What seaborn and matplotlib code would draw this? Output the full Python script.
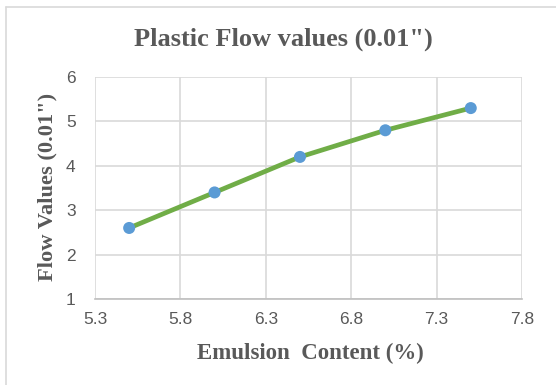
import matplotlib
matplotlib.use("Agg")
import matplotlib.pyplot as plt
import seaborn as sns
import pandas as pd
from matplotlib.lines import Line2D

emulsion = [5.5, 6.0, 6.5, 7.0, 7.5]
flow = [2.6, 3.4, 4.2, 4.8, 5.3]
x_ticks = [5.3, 5.8, 6.3, 6.8, 7.3, 7.8]
y_ticks = [1, 2, 3, 4, 5, 6]

df = pd.DataFrame({"Emulsion": emulsion, "Flow": flow})

sns.set_style("white")
fig = plt.figure(figsize=(5.56, 3.85), dpi=100)
ax = fig.add_axes([95/556, 1-299/385, (522-95)/556, (299-77)/385])

sns.lineplot(data=df, x="Emulsion", y="Flow", ax=ax, color="#70AD47",
             linewidth=3.4, solid_capstyle="round", zorder=3)
sns.scatterplot(data=df, x="Emulsion", y="Flow", ax=ax, color="#5B9BD5",
                s=75, edgecolor="none", zorder=4)

ax.set_xlim(5.3, 7.8)
ax.set_ylim(1, 6)
ax.set_xticks(x_ticks)
ax.set_xticklabels([f"{v:.1f}" for v in x_ticks])
ax.set_yticks(y_ticks)
ax.grid(True, color="#d9d9d9", linewidth=1.2)
for s in ax.spines.values():
    s.set_visible(False)
ax.spines["bottom"].set_visible(True)
ax.spines["bottom"].set_color("#bfbfbf")
ax.spines["bottom"].set_linewidth(1.2)
ax.tick_params(axis="x", length=0, labelsize=12.5, labelcolor="#595959", pad=9)
ax.tick_params(axis="y", length=0, labelsize=12.5, labelcolor="#595959", pad=14)
for lbl in ax.get_xticklabels() + ax.get_yticklabels():
    lbl.set_fontfamily("Liberation Sans")

serif = dict(family="Liberation Serif", weight="bold", color="#595959")
ax.set_xlabel("Emulsion  Content (%)", fontsize=16.5, va="center", **serif)
ax.xaxis.set_label_coords((310-95)/427, (299-353)/222)
ax.set_ylabel("Flow Values (0.01\")", fontsize=16.2, va="center", ha="center", **serif)
ax.yaxis.set_label_coords((47-95)/427, (299-187)/222)
fig.text(283/556, 1-39/385, "Plastic Flow values (0.01\")", ha="center", va="center",
         fontsize=19, **serif)

# chart border (top and left visible)
fig.add_artist(Line2D([6/556, 1], [1-7/385, 1-7/385], transform=fig.transFigure,
                      color="#d9d9d9", linewidth=1.2))
fig.add_artist(Line2D([6/556, 6/556], [0, 1-7/385], transform=fig.transFigure,
                      color="#d9d9d9", linewidth=1.2))

fig.savefig("out.png", dpi=100)
